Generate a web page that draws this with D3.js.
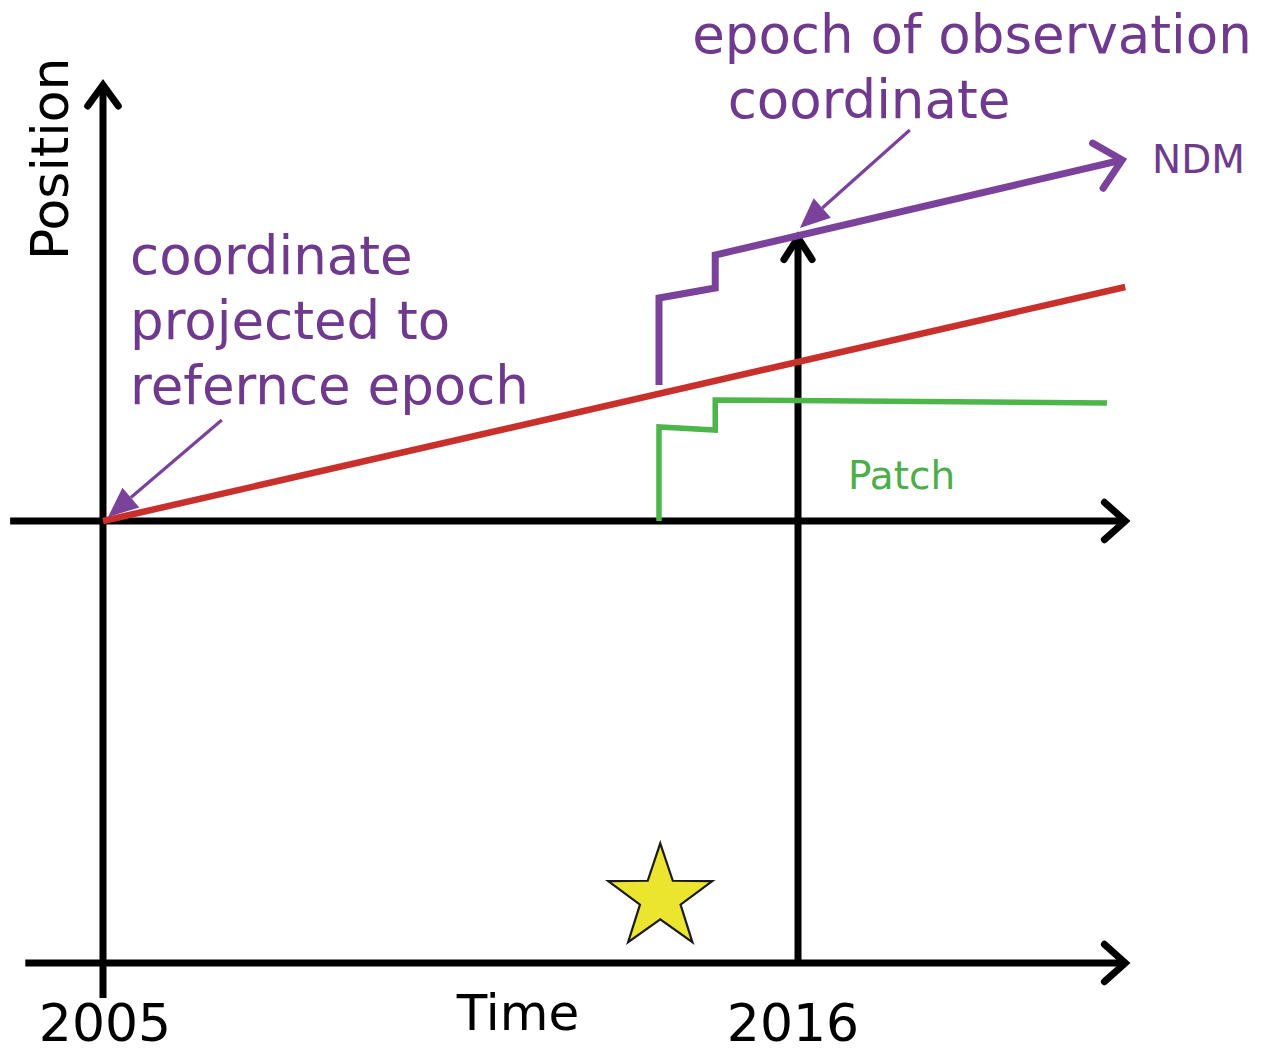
<!DOCTYPE html>
<html>
<head>
<meta charset="utf-8">
<script src="https://cdn.jsdelivr.net/npm/d3@7"></script>
<style>
  html, body { margin: 0; padding: 0; background: #ffffff; }
  svg { display: block; }
</style>
</head>
<body>
<svg id="chart" width="1271" height="1053"></svg>
<script>
// ---------- data ----------
const tickYears = [2005, 2016];
const tickLabels = ["2005", "2016"];
const referenceYear = 2005;
const observationYear = 2016;
const eventYear = 2013.82;
const axisEndYear = 2021.18;
const upperAxisStartYear = 2003.53;
const lowerAxisStartYear = 2003.77;
const positionAxisTop = 87.2;

// red: coordinate projected with constant velocity
const linearTime = [2005, 2021.18];
const linearPos = [0, 46.8];
// NDM (purple) trajectory
const ndmTime = [2013.80, 2013.80, 2014.69, 2014.69, 2021.13];
const ndmPos = [27.2, 44.6, 46.6, 53.2, 72.2];
// Patch (green) trajectory
const patchTime = [2013.80, 2013.80, 2014.69, 2014.69, 2020.89];
const patchPos = [0, 18.8, 18.2, 24.2, 23.6];

// annotation arrows [tailYear, tailPos, tipYear, tipPos]
const refArrow = [2006.88, 20.2, 2005.08, 0.8];
const obsArrow = [2017.77, 78.2, 2016.03, 58.6];

const labelRef = ["coordinate", "projected to", "refernce epoch"];
const labelObs = ["epoch of observation", "coordinate"];

// ---------- styles ----------
const FONT = "'DejaVu Sans', Verdana, sans-serif";
const BLACK = "#000000";
const RED = "#c9302c";
const PURPLE = "#7a429b";
const PURPLE_TEXT = "#6f3a8e";
const GREEN = "#4db64a";
const GREEN_TEXT = "#4cae4a";

const svg = d3.select("#chart");

// ---------- scales ----------
const x = d3.scaleLinear().domain([2005, 2016]).range([103, 798]);
const y = d3.scaleLinear().domain([0, 100]).range([521, 21]);
const lowerAxisY = 963;
const lowerBottomY = 998;

const line = d3.line().x(d => x(d[0])).y(d => y(d[1]));

function chevron(tipX, tipY, fromX, fromY, len, ang, color, w) {
  const a = Math.atan2(fromY - tipY, fromX - tipX);
  const p1 = [tipX + len * Math.cos(a + ang), tipY + len * Math.sin(a + ang)];
  const p2 = [tipX + len * Math.cos(a - ang), tipY + len * Math.sin(a - ang)];
  svg.append("path")
    .attr("d", `M${p1[0]},${p1[1]}L${tipX},${tipY}L${p2[0]},${p2[1]}`)
    .attr("fill", "none").attr("stroke", color).attr("stroke-width", w)
    .attr("stroke-linecap", "round").attr("stroke-linejoin", "miter");
}

function filledArrow(tx, ty, hx, hy, color) {
  const a = Math.atan2(ty - hy, tx - hx);
  const L = 30, H = 13;
  const bx = hx + L * Math.cos(a), by = hy + L * Math.sin(a);
  svg.append("line")
    .attr("x1", tx).attr("y1", ty).attr("x2", bx).attr("y2", by)
    .attr("stroke", color).attr("stroke-width", 3.2);
  const p1 = [bx + H * Math.cos(a + Math.PI / 2), by + H * Math.sin(a + Math.PI / 2)];
  const p2 = [bx - H * Math.cos(a + Math.PI / 2), by - H * Math.sin(a + Math.PI / 2)];
  svg.append("path")
    .attr("d", `M${hx},${hy}L${p1[0]},${p1[1]}L${p2[0]},${p2[1]}Z`)
    .attr("fill", color);
}

// ---------- axes (black) ----------
const AW = 7;
// vertical position axis at reference epoch
svg.append("line")
  .attr("x1", x(referenceYear)).attr("x2", x(referenceYear))
  .attr("y1", y(positionAxisTop)).attr("y2", lowerBottomY)
  .attr("stroke", BLACK).attr("stroke-width", AW);
chevron(x(referenceYear), y(positionAxisTop), x(referenceYear), 600, 26, Math.PI / 5, BLACK, AW);

// upper horizontal axis (zero position)
svg.append("line")
  .attr("x1", x(upperAxisStartYear)).attr("x2", x(axisEndYear))
  .attr("y1", y(0)).attr("y2", y(0))
  .attr("stroke", BLACK).attr("stroke-width", AW);
chevron(x(axisEndYear), y(0), 0, y(0), 28, Math.PI / 4.3, BLACK, AW);

// lower time axis
svg.append("line")
  .attr("x1", x(lowerAxisStartYear)).attr("x2", x(axisEndYear))
  .attr("y1", lowerAxisY).attr("y2", lowerAxisY)
  .attr("stroke", BLACK).attr("stroke-width", AW);
chevron(x(axisEndYear), lowerAxisY, 0, lowerAxisY, 28, Math.PI / 4.3, BLACK, AW);

// observation epoch arrow (2016)
const obsTipY = y(d3.scaleLinear().domain([ndmTime[3], ndmTime[4]]).range([ndmPos[3], ndmPos[4]])(observationYear)) + 2;
svg.append("line")
  .attr("x1", x(observationYear)).attr("x2", x(observationYear))
  .attr("y1", lowerAxisY).attr("y2", obsTipY)
  .attr("stroke", BLACK).attr("stroke-width", AW);
chevron(x(observationYear), obsTipY, x(observationYear), 900, 26, Math.PI / 5.5, BLACK, AW);

// tick labels via d3 axis
const axisG = svg.append("g")
  .attr("transform", `translate(0,${lowerAxisY})`)
  .call(d3.axisBottom(x).tickValues(tickYears).tickFormat((d, i) => tickLabels[i]).tickSize(0).tickPadding(41));
axisG.select(".domain").remove();
axisG.selectAll("text")
  .attr("font-family", FONT).attr("font-size", 52).attr("fill", BLACK);
axisG.selectAll(".tick").attr("transform", d => `translate(${x(d) + (d === 2005 ? 2 : -5)},0)`);

// axis titles
svg.append("text")
  .attr("x", 518).attr("y", 1030)
  .attr("text-anchor", "middle")
  .attr("font-family", FONT).attr("font-size", 50).attr("fill", BLACK)
  .text("Time");
svg.append("text")
  .attr("transform", "translate(68,260) rotate(-90)")
  .attr("text-anchor", "start")
  .attr("font-family", FONT).attr("font-size", 52).attr("fill", BLACK)
  .text("Position");

// ---------- series ----------
svg.append("path")
  .datum(d3.zip(linearTime, linearPos))
  .attr("d", line)
  .attr("fill", "none").attr("stroke", RED).attr("stroke-width", 6.5);

svg.append("path")
  .datum(d3.zip(patchTime, patchPos))
  .attr("d", line)
  .attr("fill", "none").attr("stroke", GREEN).attr("stroke-width", 5.5)
  .attr("stroke-linejoin", "miter");

svg.append("path")
  .datum(d3.zip(ndmTime, ndmPos))
  .attr("d", line)
  .attr("fill", "none").attr("stroke", PURPLE).attr("stroke-width", 7)
  .attr("stroke-linejoin", "miter");
{
  const n = ndmTime.length;
  chevron(x(ndmTime[n - 1]), y(ndmPos[n - 1]), x(ndmTime[n - 2]), y(ndmPos[n - 2]), 34, Math.PI / 4.2, PURPLE, 7);
}

// series labels
svg.append("text")
  .attr("x", 1152).attr("y", 173)
  .attr("font-family", FONT).attr("font-size", 39).attr("fill", PURPLE_TEXT)
  .text("NDM");
svg.append("text")
  .attr("x", 848).attr("y", 489)
  .attr("font-family", FONT).attr("font-size", 39).attr("fill", GREEN_TEXT)
  .text("Patch");

// ---------- annotations ----------
filledArrow(x(refArrow[0]), y(refArrow[1]), x(refArrow[2]), y(refArrow[3]), PURPLE);
filledArrow(x(obsArrow[0]), y(obsArrow[1]), x(obsArrow[2]), y(obsArrow[3]), PURPLE);

svg.append("text")
  .attr("font-family", FONT).attr("font-size", 53).attr("fill", PURPLE_TEXT)
  .selectAll("tspan").data(labelRef).join("tspan")
  .attr("x", 130).attr("y", (d, i) => 274 + i * 65)
  .text(d => d);

svg.append("text")
  .attr("font-family", FONT).attr("font-size", 53).attr("fill", PURPLE_TEXT)
  .attr("text-anchor", "middle")
  .selectAll("tspan").data(labelObs).join("tspan")
  .attr("x", (d, i) => i === 0 ? 972 : 869).attr("y", (d, i) => 53 + i * 65)
  .text(d => d);

// ---------- event star ----------
const starR = 54.7;
const pts = [];
for (let i = 0; i < 10; i++) {
  const r = i % 2 === 0 ? starR : starR * 0.39;
  const a = -Math.PI / 2 + i * Math.PI / 5;
  pts.push([r * Math.cos(a), r * Math.sin(a)]);
}
svg.append("path")
  .attr("transform", `translate(${x(eventYear)},898)`)
  .attr("d", d3.line()(pts) + "Z")
  .attr("fill", "#ece52f").attr("stroke", "#1a1a1a").attr("stroke-width", 2.2)
  .attr("stroke-linejoin", "miter");
</script>
</body>
</html>
